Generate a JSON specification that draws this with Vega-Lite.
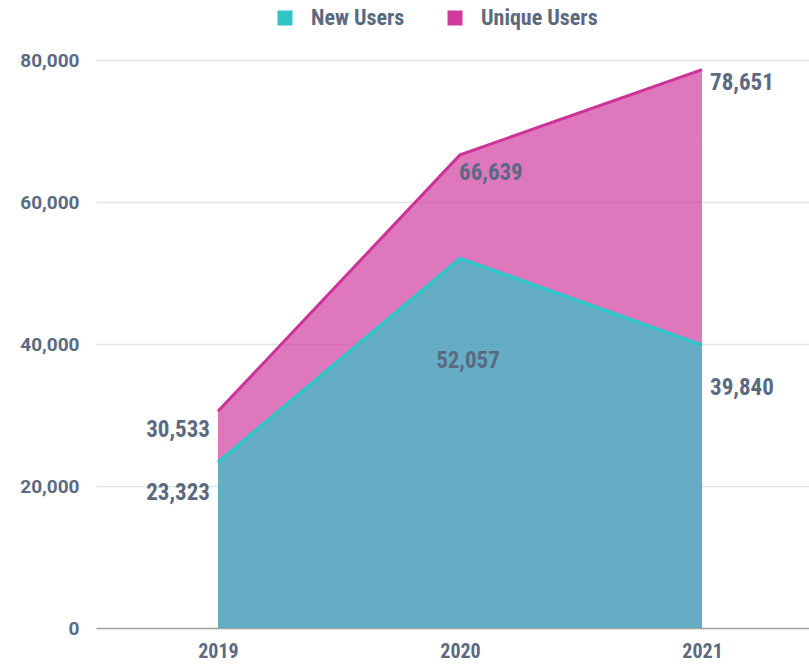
{
  "$schema": "https://vega.github.io/schema/vega-lite/v6.json",
  "width": 713,
  "height": 568,
  "autosize": {"type": "none"},
  "padding": {"left": 96, "top": 60, "right": 0, "bottom": 36},
  "background": "#ffffff",
  "config": {
    "view": {"stroke": null},
    "font": "Roboto",
    "axis": {"labelFont": "Roboto", "labelFontWeight": "bold", "labelColor": "#5b6a80"}
  },
  "data": {
    "values": [
      {"year": 2019, "series": "Unique Users", "value": 30533},
      {"year": 2020, "series": "Unique Users", "value": 66639},
      {"year": 2021, "series": "Unique Users", "value": 78651},
      {"year": 2019, "series": "New Users", "value": 23323},
      {"year": 2020, "series": "New Users", "value": 52057},
      {"year": 2021, "series": "New Users", "value": 39840}
    ]
  },
  "encoding": {
    "x": {
      "field": "year",
      "type": "quantitative",
      "scale": {"domain": [2018.496, 2021.442], "nice": false, "zero": false},
      "axis": {
        "title": null,
        "values": [2019, 2020, 2021],
        "format": "d",
        "grid": false,
        "ticks": false,
        "domainColor": "#a3a3a3",
        "domainWidth": 1.5,
        "labelFont": "Roboto Condensed, Roboto",
        "labelFontSize": 20,
        "labelPadding": 13,
        "labelColor": "#5b6a80"
      }
    },
    "y": {
      "field": "value",
      "type": "quantitative",
      "scale": {"domain": [0, 80000], "nice": false},
      "axis": {
        "title": null,
        "values": [0, 20000, 40000, 60000, 80000],
        "format": ",.0f",
        "domain": false,
        "ticks": false,
        "gridColor": "#e3e3e3",
        "gridWidth": 1.5,
        "labelFontSize": 19,
        "labelPadding": 17,
        "labelColor": "#5b6a80"
      }
    }
  },
  "layer": [
    {
      "transform": [{"filter": "datum.series === 'Unique Users'"}],
      "mark": {"type": "area", "fillOpacity": 0.69},
      "encoding": {
        "color": {
          "field": "series",
          "type": "nominal",
          "scale": {"domain": ["New Users", "Unique Users"], "range": ["#2ec4c8", "#d03a9f"]},
          "legend": {
            "title": null,
            "orient": "none",
            "legendX": 178,
            "legendY": -53,
            "direction": "horizontal",
            "symbolType": "square",
            "symbolSize": 225,
            "symbolOpacity": 1,
            "symbolStrokeWidth": 0,
            "labelFont": "Roboto Condensed, Roboto",
            "labelFontWeight": "bold",
            "labelFontSize": 22,
            "labelColor": "#5b6a80",
            "labelOffset": 15,
            "columnPadding": 39
          }
        }
      }
    },
    {
      "transform": [{"filter": "datum.series === 'New Users'"}],
      "mark": {"type": "area", "fillOpacity": 0.69},
      "encoding": {
        "color": {"field": "series", "type": "nominal"}
      }
    },
    {
      "transform": [{"filter": "datum.series === 'Unique Users'"}],
      "mark": {"type": "line", "stroke": "#cc3399", "strokeWidth": 3},
      "encoding": {}
    },
    {
      "transform": [{"filter": "datum.series === 'New Users'"}],
      "mark": {"type": "line", "stroke": "#2ec6c9", "strokeWidth": 3.5},
      "encoding": {}
    },
    {
      "transform": [{"filter": "datum.year === 2019 && datum.series === 'Unique Users'"}],
      "mark": {"type": "text", "align": "right", "baseline": "middle", "dx": -8, "dy": 19, "font": "Roboto Condensed, Roboto", "fontWeight": "bold", "fontSize": 23, "fill": "#5b6a80"},
      "encoding": {"text": {"field": "value", "type": "quantitative", "format": ","}}
    },
    {
      "transform": [{"filter": "datum.year === 2019 && datum.series === 'New Users'"}],
      "mark": {"type": "text", "align": "right", "baseline": "middle", "dx": -8, "dy": 31, "font": "Roboto Condensed, Roboto", "fontWeight": "bold", "fontSize": 23, "fill": "#5b6a80"},
      "encoding": {"text": {"field": "value", "type": "quantitative", "format": ","}}
    },
    {
      "transform": [{"filter": "datum.year === 2020 && datum.series === 'Unique Users'"}],
      "mark": {"type": "text", "align": "left", "baseline": "middle", "dx": -1, "dy": 18, "font": "Roboto Condensed, Roboto", "fontWeight": "bold", "fontSize": 23, "fill": "#5b6a80"},
      "encoding": {"text": {"field": "value", "type": "quantitative", "format": ","}}
    },
    {
      "transform": [{"filter": "datum.year === 2020 && datum.series === 'New Users'"}],
      "mark": {"type": "text", "align": "center", "baseline": "middle", "dx": 8, "dy": 103, "font": "Roboto Condensed, Roboto", "fontWeight": "bold", "fontSize": 23, "fill": "#5b6a80"},
      "encoding": {"text": {"field": "value", "type": "quantitative", "format": ","}}
    },
    {
      "transform": [{"filter": "datum.year === 2021 && datum.series === 'Unique Users'"}],
      "mark": {"type": "text", "align": "left", "baseline": "middle", "dx": 8, "dy": 13, "font": "Roboto Condensed, Roboto", "fontWeight": "bold", "fontSize": 23, "fill": "#5b6a80"},
      "encoding": {"text": {"field": "value", "type": "quantitative", "format": ","}}
    },
    {
      "transform": [{"filter": "datum.year === 2021 && datum.series === 'New Users'"}],
      "mark": {"type": "text", "align": "left", "baseline": "middle", "dx": 8, "dy": 43, "font": "Roboto Condensed, Roboto", "fontWeight": "bold", "fontSize": 23, "fill": "#5b6a80"},
      "encoding": {"text": {"field": "value", "type": "quantitative", "format": ","}}
    }
  ]
}
